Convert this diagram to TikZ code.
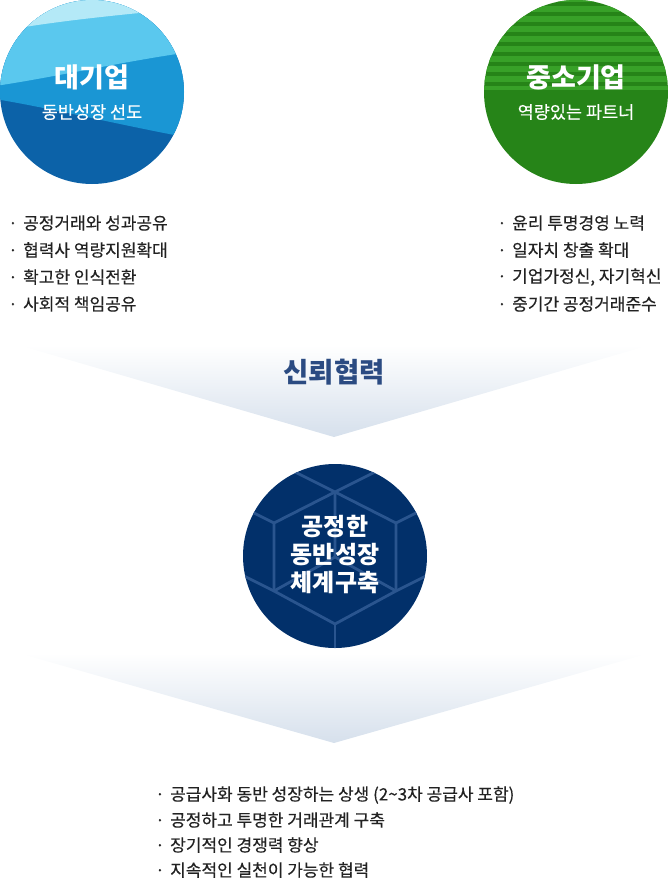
\documentclass[tikz,border=0pt]{standalone}
\usepackage{fontspec}
\setmainfont{Noto Sans CJK KR}
\newfontfamily\medfont[FakeBold=0.35]{Noto Sans CJK KR}
\definecolor{bA}{HTML}{B4E9F7}
\definecolor{bB}{HTML}{5AC8EE}
\definecolor{bC}{HTML}{1A96D4}
\definecolor{bD}{HTML}{0C62A8}
\definecolor{gDark}{HTML}{268418}
\definecolor{gLight}{HTML}{38A128}
\definecolor{navy}{HTML}{02306A}
\definecolor{hexline}{HTML}{2A558F}
\definecolor{chev}{HTML}{D6E0EC}
\definecolor{titleblue}{HTML}{2B4B82}
\definecolor{txt}{HTML}{222222}
\tikzset{
  circtitle/.style={text=white,font=\bfseries\fontsize{27}{30}\selectfont,inner sep=0pt},
  circsub/.style={text=white,font=\medfont\fontsize{17.5}{20}\selectfont,inner sep=0pt},
  centertxt/.style={text=white,font=\bfseries\fontsize{24}{28}\selectfont,inner sep=0pt,align=center},
  bulletline/.style={text=txt,font=\medfont\fontsize{17}{20}\selectfont,inner sep=0pt,anchor=west},
  hexl/.style={draw=hexline,line width=2.8pt},
}
\newcommand{\bl}[1]{\makebox[15pt][l]{·}#1}
\begin{document}
\begin{tikzpicture}[x=1pt,y=-1pt]
\useasboundingbox (0,0) rectangle (668,881);
% chevrons
\shade[top color=white,bottom color=chev] (18,345) -- (650,345) -- (334,437) -- cycle;
\shade[top color=white,bottom color=chev] (18,653) -- (650,653) -- (334,743) -- cycle;
% left circle
\begin{scope}
\clip (92,92) circle (92);
\fill[bD] (-5,-5) rectangle (190,190);
\fill[bC] (-5,-5) -- (190,-5) -- (190,138) .. controls (120,125) and (50,108) .. (-5,99) -- cycle;
\fill[bB] (-5,-5) -- (190,-5) -- (190,52) .. controls (120,62) and (50,78) .. (-5,86) -- cycle;
\fill[bA] (-5,-5) -- (190,-5) -- (190,8) .. controls (130,14) and (60,20) .. (-5,32) -- cycle;
\end{scope}
\node[circtitle] (lt) at (92,77) {대기업};
\node[circsub] (ls) at (92,112) {동반성장 선도};
% right circle
\begin{scope}
\clip (576,92) circle (92);
\fill[gDark] (480,-5) rectangle (675,190);
\foreach \k in {0,...,7}{
  \fill[gLight] (480,{10*\k+5.5}) rectangle (675,{10*\k+12});
}
\fill[gLight] (480,85.5) rectangle (675,90);
\fill[gLight] (480,-5) rectangle (675,2);
\end{scope}
\node[circtitle] (rt) at (576,77) {중소기업};
\node[circsub] (rs) at (576,112) {역량있는 파트너};
% bullet lists
\node[bulletline] (l1) at (8,223) {\bl{공정거래와 성과공유}};
\node[bulletline] (l2) at (8,250) {\bl{협력사 역량지원확대}};
\node[bulletline] (l3) at (8,277) {\bl{확고한 인식전환}};
\node[bulletline] (l4) at (8,304) {\bl{사회적 책임공유}};
\node[bulletline] (r1) at (497,223) {\bl{윤리 투명경영 노력}};
\node[bulletline] (r2) at (497,250) {\bl{일자치 창출 확대}};
\node[bulletline] (r3) at (497,277) {\bl{기업가정신, 자기혁신}};
\node[bulletline] (r4) at (497,304) {\bl{중기간 공정거래준수}};
% title
\node[text=titleblue,font=\bfseries\fontsize{27.5}{30}\selectfont,inner sep=0pt] (trust) at (334,372) {신뢰협력};
% center circle
\begin{scope}
\clip (335,556) circle (92);
\fill[navy] (240,460) rectangle (430,652);
\coordinate (ht) at (335,492);
\coordinate (hul) at (274,523);
\coordinate (hll) at (274,591);
\coordinate (hb) at (335,624);
\coordinate (hlr) at (396,591);
\coordinate (hur) at (396,523);
\coordinate (hc) at (335,557);
\draw[hexl,line join=round] (ht) -- (hul) -- (hll) -- (hb) -- (hlr) -- (hur) -- cycle;
\draw[hexl] (ht) -- (hc) (hc) -- (hll) (hc) -- (hlr);
\draw[hexl] (ht) -- ++(-100,-50) (ht) -- ++(100,-50);
\draw[hexl] (hul) -- ++(-60,-30) (hll) -- ++(-60,-30);
\draw[hexl] (hur) -- ++(60,-30) (hlr) -- ++(60,-30);
\draw[hexl] (hb) -- ++(0,60);
\end{scope}
\node[centertxt] (ct1) at (335,527) {공정한};
\node[centertxt] (ct2) at (335,555) {동반성장};
\node[centertxt] (ct3) at (335,583) {체계구축};
% bottom list
\node[bulletline] (b1) at (155,795) {\bl{공급사화 동반 성장하는 상생 (2\textasciitilde3차 공급사 포함)}};
\node[bulletline] (b2) at (155,820) {\bl{공정하고 투명한 거래관계 구축}};
\node[bulletline] (b3) at (155,845) {\bl{장기적인 경쟁력 향상}};
\node[bulletline] (b4) at (155,870) {\bl{지속적인 실천이 가능한 협력}};
\end{tikzpicture}
\end{document}
